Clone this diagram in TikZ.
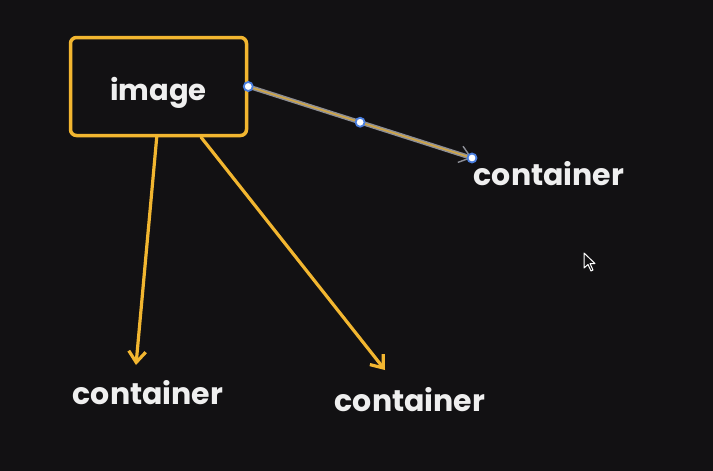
\documentclass[tikz,border=0pt]{standalone}
\usepackage{fontspec}
\setmainfont{Poppins}
\usepackage{xcolor}
\usepackage{tikz}
\usetikzlibrary{arrows.meta,positioning}

\definecolor{canvas}{HTML}{121113}
\definecolor{marker}{HTML}{F2B630}
\definecolor{chalk}{HTML}{EFEFEF}
\definecolor{selgray}{HTML}{8C8E96}
\definecolor{handleblue}{HTML}{4A7FE0}

\begin{document}
\begin{tikzpicture}[
    x=1pt, y=-1pt,
    box/.style={rectangle, draw=marker, line width=3.5pt, rounded corners=6pt, minimum width=176pt, minimum height=98pt, text=chalk, text height=30pt, text depth=3pt, font=\fontsize{29}{32}\selectfont\bfseries},
    label/.style={text=chalk, inner sep=0pt, font=\fontsize{30}{33}\selectfont\bfseries},
    arrow/.style={-{Straight Barb[length=11pt,width=17pt,line width=3.2pt]}, draw=marker, line width=3.2pt, line cap=round},
    picked/.style={-{Straight Barb[length=11pt,width=17pt]}, draw=selgray, double=marker!70!gray, double distance=1.6pt, line width=1.4pt},
    handle/.style={circle, draw=handleblue, fill=white, line width=1.8pt, inner sep=0pt, minimum size=9pt}
]
\useasboundingbox (0,0) rectangle (713,471);
\fill[canvas] (0,0) rectangle (713,471);

% Nodes
\node [box] (imgbox) at (158.5,86.5) {image};
\node [label] (ctrright) at (549,174) {container};
\node [label] (ctrleft) at (148,393) {container};
\node [label] (ctrmid) at (410,400) {container};

% Arrow tips
\coordinate (tipright) at (472,158);
\coordinate (tipleft) at (136,365);
\coordinate (tipmid) at (385,370);

% Arrows
\draw [arrow] (imgbox.-92) -- (tipleft);
\draw [arrow] (imgbox.-50.6) -- (tipmid);
\draw [picked] (imgbox.east) -- node [handle, pos=0.5] (midhandle) {} (tipright);

% Selection handles
\node [handle] (starthandle) at (imgbox.east) {};
\node [handle] (endhandle) at (tipright) {};

% Pointer
\draw [fill=canvas, draw=white, line width=1pt, line join=round] (584,253) -- (584,268) -- (588,264.5) -- (591,271) -- (593,270) -- (590,263.5) -- (595,263.5) -- cycle;

\end{tikzpicture}
\end{document}
